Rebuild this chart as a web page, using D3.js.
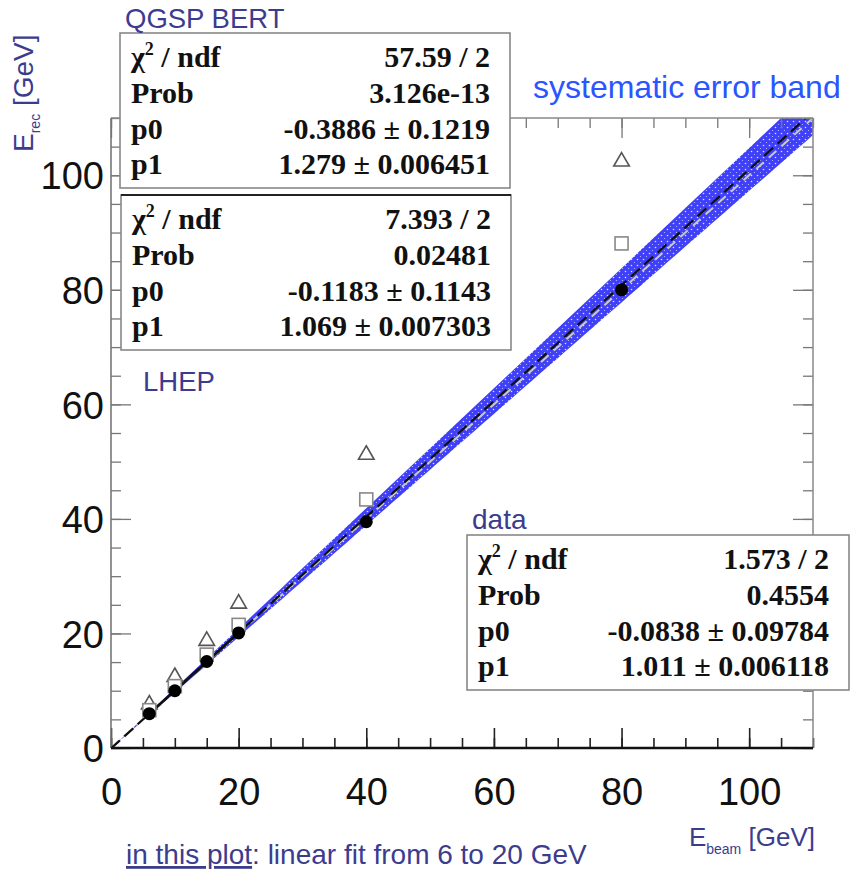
<!DOCTYPE html>
<html>
<head>
<meta charset="utf-8">
<script src="https://cdn.jsdelivr.net/npm/d3@7"></script>
<style>
  html, body { margin: 0; padding: 0; background: #fff; }
  svg { display: block; }
</style>
</head>
<body>
<svg id="chart" width="851" height="869"></svg>
<script>
// Beam energies (GeV) and reconstructed energies for data and two physics lists
const beamEnergies = [6, 10, 15, 20, 40, 80];
const dataErec     = [6.0, 10.0, 15.1, 20.1, 39.5, 80.0];
const lhepErec     = [6.6, 10.8, 16.3, 21.5, 43.4, 88.1];
const qgspErec     = [7.6, 12.4, 18.7, 25.2, 51.2, 102.4];

// Fit results (linear fit from 6 to 20 GeV)
const statLabels = ["χ2 / ndf", "Prob", "p0", "p1"];
const qgspStats  = ["57.59 / 2", "3.126e-13", "-0.3886 ± 0.1219", "1.279 ± 0.006451"];
const lhepStats  = ["7.393 / 2", "0.02481", "-0.1183 ± 0.1143", "1.069 ± 0.007303"];
const dataStats  = ["1.573 / 2", "0.4554", "-0.0838 ± 0.09784", "1.011 ± 0.006118"];
const dataFitP0 = -0.0838;
const dataFitP1 = 1.011;
const fitRange = [6, 20];
const bandRelErr = 0.037;   // relative systematic uncertainty on E_rec

const xTickLabels = [0, 20, 40, 60, 80, 100];
const yTickLabels = [0, 20, 40, 60, 80, 100];

const navy = "#3c3c8e";
const svg = d3.select("#chart");

const x = d3.scaleLinear().domain([0, 110]).range([111, 813]);
const y = d3.scaleLinear().domain([0, 110]).range([748, 118]);
const [x0, x1] = x.range();
const [y0, y1] = y.range();

// clipping to the frame
const defs = svg.append("defs");
defs.append("clipPath").attr("id", "frameClip")
  .append("rect").attr("x", x0).attr("y", y1).attr("width", x1 - x0).attr("height", y0 - y1);

// dotted fill for the systematic band
const pat = defs.append("pattern").attr("id", "bandFill")
  .attr("patternUnits", "userSpaceOnUse").attr("width", 6).attr("height", 6);
pat.append("rect").attr("width", 6).attr("height", 6).attr("fill", "#4040fa");
pat.append("circle").attr("cx", 1.5).attr("cy", 1.5).attr("r", 0.8).attr("fill", "#d8dcff");
pat.append("circle").attr("cx", 4.5).attr("cy", 4.5).attr("r", 0.6).attr("fill", "#b8bfff");

const plot = svg.append("g").attr("clip-path", "url(#frameClip)");

// systematic error band around the data fit
const fitF = e => dataFitP0 + dataFitP1 * e;
const bandX = d3.range(0, 111, 1);
plot.append("path")
  .datum(bandX)
  .attr("fill", "url(#bandFill)")
  .attr("d", d3.area()
    .x(e => x(e))
    .y0(e => y(fitF(e) * (1 - bandRelErr)))
    .y1(e => y(fitF(e) * (1 + bandRelErr))));

// reference diagonal
plot.append("line")
  .attr("x1", x(0)).attr("y1", y(0)).attr("x2", x(110)).attr("y2", y(110))
  .attr("stroke", "#c8c8c8").attr("stroke-width", 2).attr("stroke-dasharray", "10,7");

// extrapolated fit (dashed) and fit range (solid)
plot.append("line")
  .attr("x1", x(0)).attr("y1", y(fitF(0))).attr("x2", x(112)).attr("y2", y(fitF(112)))
  .attr("stroke", "#111").attr("stroke-width", 2.2).attr("stroke-dasharray", "12,6");
plot.append("line")
  .attr("x1", x(fitRange[0])).attr("y1", y(fitF(fitRange[0])))
  .attr("x2", x(fitRange[1])).attr("y2", y(fitF(fitRange[1])))
  .attr("stroke", "#111").attr("stroke-width", 2.6);

// markers: QGSP BERT (open triangles), LHEP (open squares), data (filled circles)
const tri = d3.symbol().type(d3.symbolTriangle).size(105);
plot.selectAll("path.qgsp").data(beamEnergies).join("path")
  .attr("class", "qgsp")
  .attr("transform", (e, i) => `translate(${x(e)},${y(qgspErec[i])})`)
  .attr("d", tri)
  .attr("fill", "#fff").attr("stroke", "#555").attr("stroke-width", 1.6);

plot.selectAll("rect.lhep").data(beamEnergies).join("rect")
  .attr("class", "lhep")
  .attr("x", e => x(e) - 6.5)
  .attr("y", (e, i) => y(lhepErec[i]) - 6.5)
  .attr("width", 13).attr("height", 13)
  .attr("fill", "#fff").attr("stroke", "#888").attr("stroke-width", 1.6);

plot.selectAll("circle.data").data(beamEnergies).join("circle")
  .attr("class", "data")
  .attr("cx", e => x(e))
  .attr("cy", (e, i) => y(dataErec[i]))
  .attr("r", 6.5)
  .attr("fill", "#000");

// frame with inward ticks on all four sides
const minor = d3.range(0, 111, 5);
function ticks(axisFn, scale, vals, size) {
  return axisFn(scale).tickValues(vals).tickSize(size).tickFormat("");
}
const frame = svg.append("g").attr("class", "frame");
const axisStyle = (g, col, w) => {
  g.select(".domain").remove();
  g.selectAll(".tick line").attr("stroke", col).attr("stroke-width", w);
};
frame.append("g").attr("transform", `translate(0,${y0})`)
  .call(ticks(d3.axisBottom, x, minor, -10)).call(g => axisStyle(g, "#222", 1.6));
frame.append("g").attr("transform", `translate(0,${y0})`)
  .call(ticks(d3.axisBottom, x, xTickLabels, -20)).call(g => axisStyle(g, "#222", 1.6));
frame.append("g").attr("transform", `translate(0,${y1})`)
  .call(ticks(d3.axisTop, x, minor, -10)).call(g => axisStyle(g, "#777", 1.3));
frame.append("g").attr("transform", `translate(0,${y1})`)
  .call(ticks(d3.axisTop, x, xTickLabels, -20)).call(g => axisStyle(g, "#777", 1.3));
frame.append("g").attr("transform", `translate(${x0},0)`)
  .call(ticks(d3.axisLeft, y, minor, -10)).call(g => axisStyle(g, "#777", 1.3));
frame.append("g").attr("transform", `translate(${x0},0)`)
  .call(ticks(d3.axisLeft, y, yTickLabels, -20)).call(g => axisStyle(g, "#777", 1.3));
frame.append("g").attr("transform", `translate(${x1},0)`)
  .call(ticks(d3.axisRight, y, minor, -10)).call(g => axisStyle(g, "#777", 1.3));
frame.append("g").attr("transform", `translate(${x1},0)`)
  .call(ticks(d3.axisRight, y, yTickLabels, -20)).call(g => axisStyle(g, "#777", 1.3));

frame.append("line").attr("x1", x0).attr("x2", x1).attr("y1", y1).attr("y2", y1)
  .attr("stroke", "#888").attr("stroke-width", 1.5);
frame.append("line").attr("x1", x1).attr("x2", x1).attr("y1", y1).attr("y2", y0)
  .attr("stroke", "#888").attr("stroke-width", 1.5);
frame.append("line").attr("x1", x0).attr("x2", x0).attr("y1", y1).attr("y2", y0)
  .attr("stroke", "#777").attr("stroke-width", 1.6);
frame.append("line").attr("x1", x0).attr("x2", x1).attr("y1", y0).attr("y2", y0)
  .attr("stroke", "#111").attr("stroke-width", 2.4);

// tick labels
const labelFont = "'Liberation Sans', Arial, sans-serif";
const xAxisLabels = svg.append("g").attr("transform", `translate(0,${y0})`)
  .call(d3.axisBottom(x).tickValues(xTickLabels).tickSize(0).tickPadding(30));
xAxisLabels.select(".domain").remove();
xAxisLabels.selectAll("text").attr("font-family", labelFont).attr("font-size", 38).attr("fill", "#111");

const yAxisLabels = svg.append("g").attr("transform", `translate(${x0},0)`)
  .call(d3.axisLeft(y).tickValues(yTickLabels).tickSize(0).tickPadding(7));
yAxisLabels.select(".domain").remove();
yAxisLabels.selectAll("text").attr("font-family", labelFont).attr("font-size", 38).attr("fill", "#111")
  .attr("dy", "0.36em");

// axis titles
const yTitle = svg.append("text")
  .attr("transform", "translate(33,152) rotate(-90)")
  .attr("font-family", labelFont).attr("font-size", 28).attr("fill", navy);
yTitle.append("tspan").text("E");
yTitle.append("tspan").attr("font-size", 14).attr("dy", 7).text("rec");
yTitle.append("tspan").attr("dy", -7).text(" [GeV]");

const xTitle = svg.append("text")
  .attr("x", 815).attr("y", 846).attr("text-anchor", "end")
  .attr("font-family", labelFont).attr("font-size", 26).attr("fill", navy);
xTitle.append("tspan").text("E");
xTitle.append("tspan").attr("font-size", 14).attr("dy", 8).text("beam");
xTitle.append("tspan").attr("dy", -8).text(" [GeV]");

// caption
const cap = svg.append("text").attr("x", 126).attr("y", 864)
  .attr("font-family", labelFont).attr("font-size", 28).attr("fill", navy);
cap.append("tspan").attr("text-decoration", "underline").text("in this plot");
cap.append("tspan").text(": linear fit from 6 to 20 GeV");

// statistics boxes
const statFont = "'Liberation Serif', 'Times New Roman', serif";
function statBox(x, y, w, h, values, darkTop) {
  const g = svg.append("g").attr("transform", `translate(${x},${y})`);
  g.append("rect").attr("width", w).attr("height", h)
    .attr("fill", "#fff").attr("stroke", "#888").attr("stroke-width", 1.6);
  if (darkTop) {
    g.append("line").attr("x1", 0).attr("x2", w).attr("y1", 0).attr("y2", 0)
      .attr("stroke", "#222").attr("stroke-width", 2.2);
  }
  const rowH = (h - 12) / 4;
  statLabels.forEach((lab, i) => {
    const by = 34 + rowH * i;
    const t = g.append("text").attr("x", 11).attr("y", by)
      .attr("font-family", statFont).attr("font-weight", "bold").attr("font-size", 30).attr("fill", "#111");
    if (lab.startsWith("χ2")) {
      t.append("tspan").text("χ");
      t.append("tspan").attr("font-size", 18).attr("dy", -12).text("2");
      t.append("tspan").attr("dy", 12).text(" / ndf");
    } else {
      t.text(lab);
    }
    g.append("text").attr("x", w - 20).attr("y", by).attr("text-anchor", "end")
      .attr("font-family", statFont).attr("font-weight", "bold").attr("font-size", 30).attr("fill", "#111")
      .text(values[i]);
  });
  return g;
}

statBox(120, 33, 390, 155, qgspStats, false);
statBox(121, 195, 390, 155, lhepStats, true);
statBox(467, 535, 382, 155, dataStats, false);

// series labels
const tag = (tx, ty, s, col, fs) => svg.append("text").attr("x", tx).attr("y", ty)
  .attr("font-family", labelFont).attr("font-size", fs).attr("fill", col).text(s);
tag(125, 28, "QGSP BERT", navy, 27.5);
tag(143, 391, "LHEP", navy, 27.5);
tag(472, 529, "data", navy, 28);
tag(533, 98, "systematic error band", "#2a55ff", 32);
</script>
</body>
</html>
